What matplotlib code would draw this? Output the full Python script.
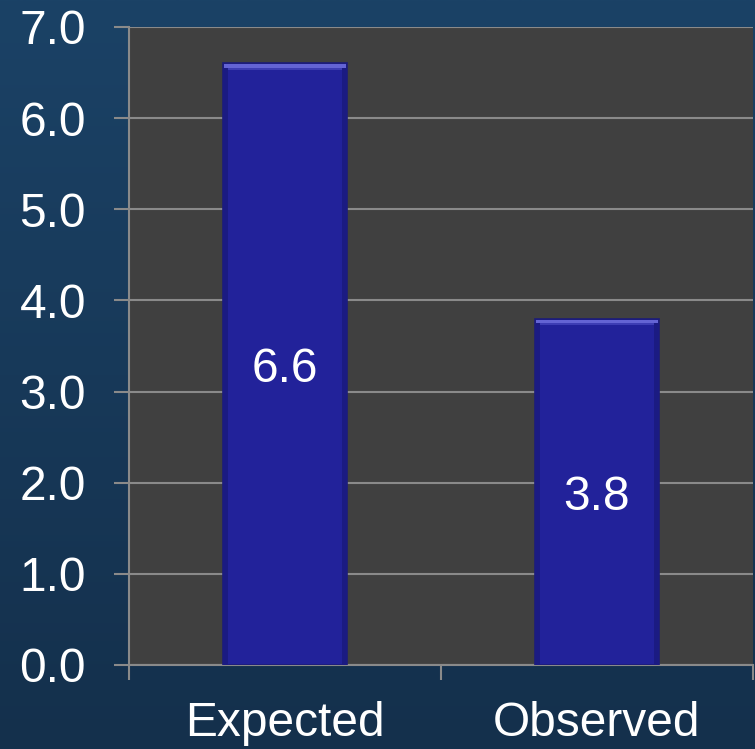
import numpy as np
import matplotlib
matplotlib.use("Agg")
import matplotlib.pyplot as plt
from matplotlib.colors import LinearSegmentedColormap

categories = ["Expected", "Observed"]
values = [6.6, 3.8]
value_labels = ["6.6", "3.8"]
y_ticks = [0, 1, 2, 3, 4, 5, 6, 7]

plt.rcParams["font.family"] = ["Liberation Sans", "DejaVu Sans"]

fig = plt.figure(figsize=(7.55, 7.49), dpi=100)

# background gradient (slide look)
bg = fig.add_axes([0, 0, 1, 1], zorder=-10)
bg_cmap = LinearSegmentedColormap.from_list("bg", ["#14304c", "#1b4266"])
bg.imshow(np.linspace(0, 1, 256).reshape(-1, 1), aspect="auto", cmap=bg_cmap,
          origin="lower", extent=[0, 1, 0, 1])
bg.axis("off")

ax = fig.add_axes([129 / 755, (749 - 665) / 749, (753 - 129) / 755, (665 - 27) / 749])
ax.set_facecolor("#404040")

x = np.arange(len(categories)) + 0.5
w = 0.4
ax.bar(x, values, width=w, color="#22229a", edgecolor="#1c1c78",
       linewidth=1.2, zorder=3)
# glossy top bevel and side shading
for xi, v in zip(x, values):
    ax.bar(xi, 0.035, bottom=v - 0.045, width=w * 0.97, color="#6464d4",
           linewidth=0, zorder=4)
    ax.bar(xi, 0.03, bottom=v - 0.075, width=w * 0.94, color="#3d3db4",
           linewidth=0, zorder=4)
    ax.bar(xi - w / 2 + 0.01, v - 0.05, width=0.016, color="#1b1b82",
           linewidth=0, zorder=4)
    ax.bar(xi + w / 2 - 0.01, v - 0.05, width=0.016, color="#1b1b82",
           linewidth=0, zorder=4)

for xi, v, lab in zip(x, values, value_labels):
    ax.text(xi, v / 2 - 0.06, lab, ha="center", va="center", color="white",
            fontsize=34.5, zorder=5)

ax.set_xlim(0, len(categories))
ax.set_ylim(0, 7)
ax.set_yticks(y_ticks)
ax.set_yticklabels([f"{t:.1f}" for t in y_ticks])
ax.set_xticks(np.arange(len(categories) + 1))
ax.set_xticklabels([])
ax.set_xticks(x, minor=True)
ax.set_xticklabels(categories, minor=True)
ax.tick_params(axis="x", which="minor", length=0, pad=26, labelsize=34.5,
               labelcolor="white")
ax.tick_params(axis="x", which="major", length=11, width=1.5, color="#8a8a8a")
ax.tick_params(axis="y", length=11, width=1.5, color="#8a8a8a", pad=20,
               labelsize=34.5, labelcolor="white")

ax.yaxis.grid(True, color="#8a8a8a", linewidth=1.5, zorder=1)
ax.set_axisbelow(True)
for s in ["top", "right"]:
    ax.spines[s].set_visible(False)
for s in ["left", "bottom"]:
    ax.spines[s].set_color("#8a8a8a")
    ax.spines[s].set_linewidth(1.5)

fig.savefig("out.png", dpi=100)
